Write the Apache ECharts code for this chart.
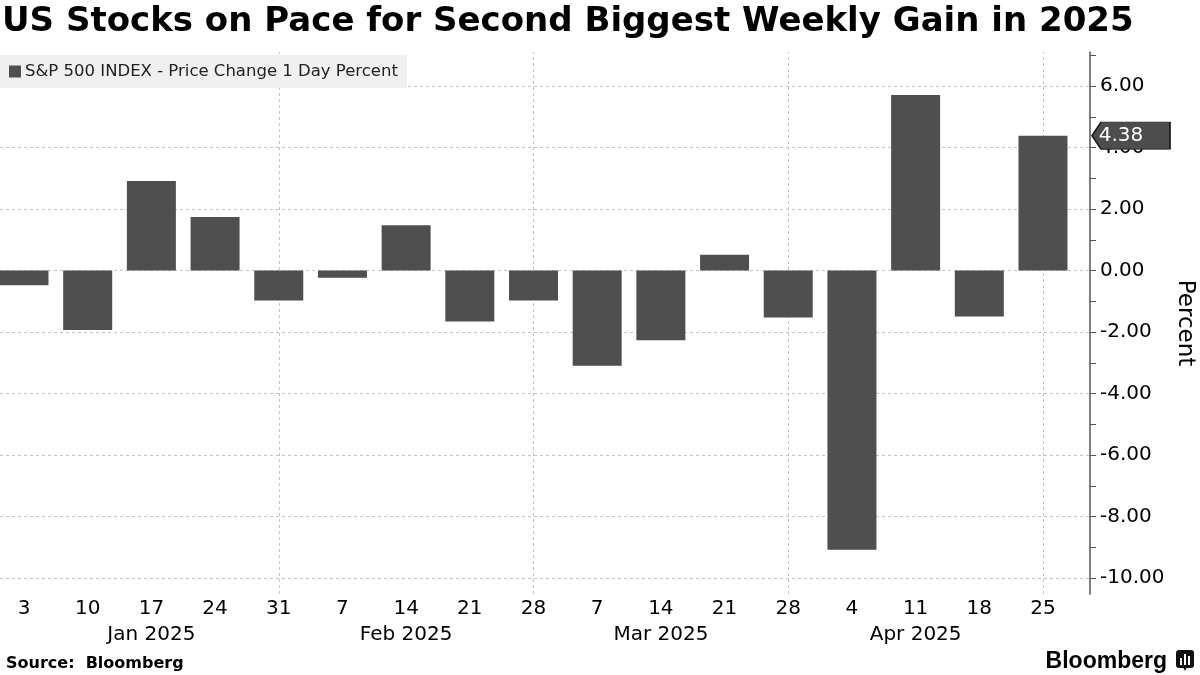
<!DOCTYPE html>
<html>
<head>
<meta charset="utf-8">
<script src="https://cdn.jsdelivr.net/npm/echarts@6/dist/echarts.min.js"></script>
<style>
  html, body { margin: 0; padding: 0; background: #fff; }
  #chart { width: 1200px; height: 675px; }
</style>
</head>
<body>
<div id="chart"></div>
<script>
// ---- data ----
const weeks = ['2025-01-03','2025-01-10','2025-01-17','2025-01-24','2025-01-31',
               '2025-02-07','2025-02-14','2025-02-21','2025-02-28',
               '2025-03-07','2025-03-14','2025-03-21','2025-03-28',
               '2025-04-04','2025-04-11','2025-04-18','2025-04-25'];
const dayLabels = ['3','10','17','24','31','7','14','21','28','7','14','21','28','4','11','18','25'];
const monthLabels = ['','','Jan 2025','','','','Feb 2025','','','','Mar 2025','','','','Apr 2025','',''];
const values = [-0.48, -1.94, 2.91, 1.74, -0.98, -0.24, 1.47, -1.66, -0.98,
                -3.10, -2.27, 0.51, -1.53, -9.08, 5.70, -1.50, 4.38];
const yTickValues = [-10, -9, -8, -7, -6, -5, -4, -3, -2, -1, 0, 1, 2, 3, 4, 5, 6, 7];
const seriesName = 'S&P 500 INDEX - Price Change 1 Day Percent';
const yMin = -11, yMax = 7, yStep = 1;

// month-end weeks (last week of each month) get a dashed vertical line
const monthEnds = weeks.filter((w, i) => i === weeks.length - 1 || weeks[i + 1].slice(0, 7) !== w.slice(0, 7));
const lastIdx = values.length - 1;

const FONT = 'DejaVu Sans';
const chart = echarts.init(document.getElementById('chart'));
chart.setOption({
  animation: false,
  backgroundColor: '#ffffff',
  textStyle: { fontFamily: FONT },
  title: [
    { text: 'US Stocks on Pace for Second Biggest Weekly Gain in 2025', left: -3, top: 0,
      textStyle: { fontFamily: FONT, fontSize: 34, fontWeight: 'bold', color: '#000' } },
    { text: 'Source:  Bloomberg', left: 1, top: 651,
      textStyle: { fontFamily: FONT, fontSize: 16, fontWeight: 'bold', color: '#000' } },
    { text: 'Bloomberg', right: 28, top: 645,
      textStyle: { fontFamily: 'Liberation Sans', fontSize: 23, fontWeight: 'bold', color: '#000' } }
  ],
  graphic: [
    { type: 'group', right: 6, top: 650, children: [
      { type: 'rect', shape: { x: 0, y: 0, width: 18, height: 18, r: 3 }, style: { fill: '#111' } },
      { type: 'polygon', shape: { points: [[7, 17], [11, 17], [9, 21]] }, style: { fill: '#111' } },
      { type: 'rect', shape: { x: 4, y: 8, width: 2, height: 7 }, style: { fill: '#fff' } },
      { type: 'rect', shape: { x: 8, y: 4, width: 2, height: 11 }, style: { fill: '#fff' } },
      { type: 'rect', shape: { x: 12, y: 6, width: 2, height: 9 }, style: { fill: '#fff' } }
    ]}
  ],
  legend: {
    left: 0, top: 55,
    padding: [8, 9, 8, 9],
    backgroundColor: '#f0f0f0',
    itemWidth: 12, itemHeight: 12, itemGap: 6,
    icon: 'rect',
    selectedMode: false,
    textStyle: { fontFamily: FONT, fontSize: 16.5, color: '#222', padding: [0, 0, 0, -1] },
    data: [seriesName]
  },
  grid: [
    { left: -7.84, right: 125.16, top: 52, bottom: 81, outerBoundsMode: 'none', containLabel: false },
    { left: 0, right: 110, top: 55.25, bottom: 66.25, outerBoundsMode: 'none', containLabel: false }
  ],
  xAxis: [
    { type: 'category', gridIndex: 0, data: weeks, boundaryGap: true,
      axisLine: { show: false, onZero: false }, axisTick: { show: false }, splitLine: { show: false },
      axisLabel: { interval: 0, margin: 5, fontSize: 20, color: '#000', fontFamily: FONT,
                   formatter: (v, i) => dayLabels[i] } },
    { type: 'category', gridIndex: 0, data: weeks, boundaryGap: true, position: 'bottom',
      axisLine: { show: false, onZero: false }, axisTick: { show: false }, splitLine: { show: false },
      axisLabel: { interval: 0, margin: 31, fontSize: 20, color: '#000', fontFamily: FONT,
                   formatter: (v, i) => monthLabels[i] } },
    { type: 'value', gridIndex: 1, min: 0, max: 1, show: false,
      axisLine: { onZero: false } }
  ],
  yAxis: [
    { type: 'value', gridIndex: 0, position: 'right', offset: 15, min: -10.52, max: 7.1,
      axisLine: { show: true, onZero: false, lineStyle: { color: '#555', width: 1.5 } },
      axisTick: { show: false }, axisLabel: { show: false }, splitLine: { show: false },
      name: 'Percent', nameLocation: 'middle', nameRotate: -90, nameGap: 84,
      nameTextStyle: { fontFamily: FONT, fontSize: 23, color: '#000' } },
    { type: 'value', gridIndex: 1, position: 'right', min: yMin, max: yMax, interval: yStep,
      axisLine: { show: false, onZero: false },
      axisTick: { show: true, length: 6, customValues: yTickValues, lineStyle: { color: '#555', width: 1 } },
      axisLabel: { margin: 10, fontSize: 20, color: '#000', fontFamily: FONT,
                   formatter: v => (Math.round(v) % 2 === 0 ? v.toFixed(2) : '') },
      splitLine: { show: true, lineStyle: { type: [3, 3], width: 1, color: ['#c4c4c4', 'rgba(0,0,0,0)'] } } }
  ],
  series: [
    {
      name: seriesName,
      type: 'bar',
      xAxisIndex: 0, yAxisIndex: 0,
      data: values,
      barWidth: 49,
      itemStyle: { color: '#4f4f4f' },
      z: 3,
      markLine: {
        silent: true, symbol: ['none', 'none'], z: 1,
        label: { show: false },
        lineStyle: { type: [3, 3], color: '#c4c4c4', width: 1 },
        emphasis: { disabled: true },
        data: monthEnds.map(w => ({ xAxis: w }))
      },
      markPoint: {
        silent: true,
        symbol: 'path://M0,13.5 L9,0 L78,0 L78,27 L9,27 Z',
        symbolSize: [78, 27],
        symbolKeepAspect: false,
        symbolOffset: [88, 0],
        itemStyle: { color: '#4d4d4d', borderColor: '#1a1a1a', borderWidth: 1 },
        label: { show: true, position: 'inside', offset: [-10, 0], color: '#fff', fontSize: 20,
                 fontFamily: FONT, formatter: p => p.value.toFixed(2) },
        data: [{ coord: [weeks[lastIdx], values[lastIdx]], value: values[lastIdx] }]
      }
    }
  ]
});
</script>
</body>
</html>
